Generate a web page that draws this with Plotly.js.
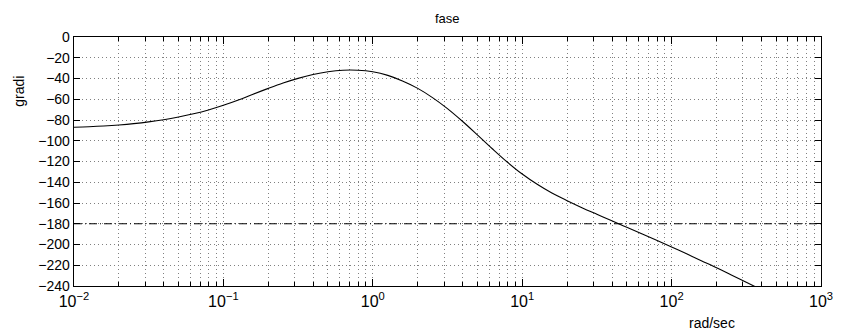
<!DOCTYPE html>
<html>
<head>
<meta charset="utf-8">
<script src="https://cdn.plot.ly/plotly-3.0.1.min.js"></script>
<style>html,body{margin:0;padding:0;background:#fff;}#chart{width:844px;height:331px;}</style>
</head>
<body>
<div id="chart"></div>
<script>
// frequency (rad/sec) and phase (degrees)
const freq = [0.01, 0.0126, 0.0158, 0.02, 0.0251, 0.0316, 0.0398, 0.0501, 0.0631, 0.0794,
              0.1, 0.126, 0.158, 0.2, 0.251, 0.316, 0.398, 0.501, 0.631, 0.794,
              1, 1.26, 1.58, 2.0, 2.51, 3.16, 3.98, 5.01, 6.31, 7.94,
              10, 12.6, 15.8, 20.0, 25.1, 31.6, 39.8, 50.1, 63.1, 79.4,
              100, 126, 158, 200, 251, 316, 398];
const phase = [-87.0, -86.5, -85.8, -84.8, -83.5, -81.8, -79.7, -77.1, -74.0, -70.3,
               -65.8, -60.7, -55.1, -49.5, -44.4, -39.9, -36.2, -33.5, -32.0, -32.0,
               -33.5, -37.0, -42.4, -49.5, -58.4, -69.0, -81.2, -94.3, -107.7, -120.5,
               -132.1, -142.0, -150.4, -157.8, -164.5, -170.9, -177.2, -183.4, -189.6, -196.0,
               -202.4, -209.0, -215.6, -222.4, -229.3, -236.4, -243.5];
const refX = [0.01, 1000];
const refY = [-180, -180];
const xTickVals = [0.01, 0.1, 1, 10, 100, 1000];
const xTickText = ['10<sup>−2</sup>', '10<sup>−1</sup>', '10<sup>0</sup>', '10<sup>1</sup>', '10<sup>2</sup>', '10<sup>3</sup>'];
const xMinorVals = [];
for (const d of [0.01, 0.1, 1, 10, 100]) for (let k = 2; k <= 9; k++) xMinorVals.push(+(d * k).toPrecision(3));
const yTickVals = [0, -20, -40, -60, -80, -100, -120, -140, -160, -180, -200, -220, -240];

const FONT = 'Liberation Sans, Arial, Helvetica, sans-serif';
const gridDash = '1px,3px';
const gridColor = '#808080';

const traces = [
  {x: refX, y: refY, mode: 'lines', line: {color: '#000', width: 1, dash: '8px,3px,1px,3px'}, hoverinfo: 'skip'},
  {x: freq, y: phase, mode: 'lines', line: {color: '#000', width: 1.1, shape: 'spline', smoothing: 1}}
];

const layout = {
  width: 844, height: 331,
  margin: {l: 74, r: 23, t: 37, b: 45},
  paper_bgcolor: '#fff', plot_bgcolor: '#fff',
  showlegend: false,
  font: {family: FONT, color: '#000', size: 14},
  xaxis: {
    type: 'log', range: [-2, 3],
    tickmode: 'array', tickvals: xTickVals, ticktext: xTickText,
    tickfont: {size: 16, family: FONT},
    ticks: 'inside', ticklen: 7, tickcolor: '#000', tickwidth: 1,
    showgrid: true, gridcolor: gridColor, gridwidth: 1, griddash: gridDash,
    minor: {tickmode: 'array', tickvals: xMinorVals, ticks: 'inside', ticklen: 4, tickcolor: '#000',
            showgrid: true, gridcolor: gridColor, gridwidth: 1, griddash: gridDash},
    showline: true, linecolor: '#000', linewidth: 1.3, mirror: 'allticks',
    zeroline: false
  },
  yaxis: {
    range: [-240, 0],
    tickmode: 'array', tickvals: yTickVals,
    tickfont: {size: 14, family: FONT},
    ticks: 'inside', ticklen: 6, tickcolor: '#000', tickwidth: 1,
    showgrid: true, gridcolor: gridColor, gridwidth: 1, griddash: gridDash,
    showline: true, linecolor: '#000', linewidth: 1.3, mirror: 'allticks',
    zeroline: false
  },
  annotations: [
    {text: 'fase', xref: 'paper', yref: 'paper', x: 0.5, y: 1, yshift: 19, xanchor: 'center', yanchor: 'middle', showarrow: false, font: {size: 13, family: FONT}},
    {text: 'gradi', xref: 'paper', yref: 'paper', x: 0, xshift: -55, y: 0.78, xanchor: 'center', yanchor: 'middle', textangle: -90, showarrow: false, font: {size: 14, family: FONT}},
    {text: 'rad/sec', xref: 'paper', yref: 'paper', x: 0.8546, y: 0, yshift: -37, xanchor: 'center', yanchor: 'middle', showarrow: false, font: {size: 14, family: FONT}}
  ]
};

Plotly.newPlot('chart', traces, layout, {displayModeBar: false, staticPlot: true});
</script>
</body>
</html>
